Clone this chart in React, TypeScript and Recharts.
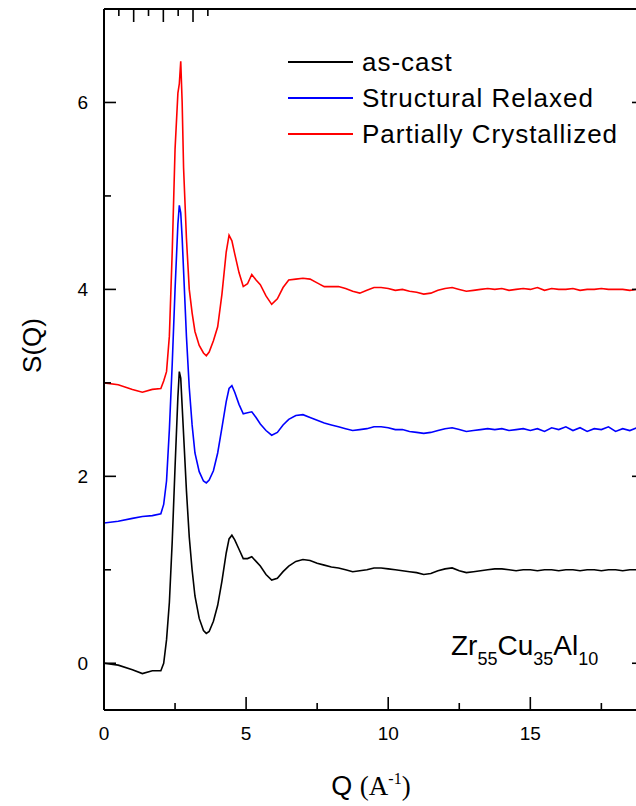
import { LineChart, Line, XAxis, YAxis, Legend, ReferenceDot } from 'recharts';

// Q grid (1/Angstrom), shared by the three curves
const qValues = [
  0, 0.5, 1.0, 1.35, 1.7, 2.0, 2.1, 2.2, 2.3, 2.4, 2.5, 2.6, 2.65, 2.7, 2.75, 2.8, 2.9, 3.0, 3.1, 3.2,
  3.35, 3.5, 3.6, 3.7, 3.85, 4.0, 4.15, 4.3, 4.4, 4.5, 4.6, 4.75, 4.9, 5.05, 5.2, 5.35, 5.5, 5.7, 5.9,
  6.1, 6.3, 6.5, 6.75, 7.0, 7.25, 7.5, 7.75, 8.0,
  8.25, 8.5, 8.75, 9.0, 9.25, 9.5, 9.75, 10.0, 10.25, 10.5, 10.75, 11.0, 11.25, 11.5, 11.75, 12.0,
  12.25, 12.5, 12.75, 13.0, 13.25, 13.5, 13.75, 14.0, 14.25, 14.5, 14.75, 15.0, 15.25, 15.5, 15.75,
  16.0, 16.25, 16.5, 16.75, 17.0, 17.25, 17.5, 17.75, 18.0, 18.25, 18.5, 18.75, 19.0,
];

const asCast = [
  0.0, -0.02, -0.07, -0.11, -0.08, -0.08, 0.0, 0.25, 0.65, 1.3, 2.1, 2.85, 3.12, 3.05, 2.75, 2.45, 1.85, 1.35, 1.0, 0.72,
  0.48, 0.35, 0.32, 0.34, 0.45, 0.62, 0.88, 1.18, 1.33, 1.37, 1.32, 1.22, 1.12, 1.12, 1.14, 1.09, 1.04, 0.95, 0.89,
  0.91, 0.98, 1.04, 1.09, 1.11, 1.1, 1.07, 1.05, 1.03,
  1.02, 1.0, 0.98, 0.99, 1.0, 1.02, 1.02, 1.01, 1.0, 0.99, 0.98, 0.97, 0.95, 0.96, 0.99, 1.01,
  1.02, 0.99, 0.97, 0.98, 0.99, 1.0, 1.01, 1.01, 1.0, 0.99, 1.0, 1.0, 0.99, 1.0, 1.0,
  0.99, 1.0, 1.0, 0.99, 1.0, 1.0, 0.99, 1.0, 1.0, 0.99, 1.0, 1.0, 1.0,
];

const relaxed = [
  1.5, 1.52, 1.55, 1.57, 1.58, 1.6, 1.7, 1.95, 2.5, 3.2, 4.0, 4.7, 4.9, 4.82, 4.55, 4.2, 3.5, 2.95, 2.55, 2.25,
  2.05, 1.95, 1.93, 1.96, 2.06, 2.25, 2.52, 2.8, 2.94, 2.97, 2.9, 2.77, 2.67, 2.68, 2.69, 2.63, 2.56, 2.49, 2.44,
  2.47, 2.55, 2.61, 2.65, 2.66, 2.63, 2.6, 2.57, 2.55,
  2.53, 2.51, 2.49, 2.5, 2.51, 2.53, 2.53, 2.52, 2.5, 2.5, 2.48, 2.47, 2.46, 2.47, 2.49, 2.51,
  2.52, 2.5, 2.48, 2.49, 2.5, 2.51, 2.5, 2.51, 2.49, 2.5, 2.51, 2.49, 2.51, 2.48, 2.52,
  2.5, 2.53, 2.49, 2.52, 2.48, 2.51, 2.5, 2.53, 2.48, 2.51, 2.49, 2.52, 2.5,
];

const crystallized = [
  3.0, 2.98, 2.93, 2.9, 2.93, 2.94, 3.02, 3.12, 3.5, 4.4, 5.5, 6.1, 6.2, 6.44, 6.0, 5.3, 4.55, 4.0, 3.75, 3.55,
  3.4, 3.32, 3.29, 3.33, 3.45, 3.6, 3.95, 4.4, 4.58, 4.52, 4.38, 4.18, 4.03, 4.06, 4.16, 4.1, 4.05, 3.93, 3.84,
  3.9, 4.02, 4.1, 4.11, 4.12, 4.11, 4.07, 4.03, 4.03,
  4.03, 4.01, 3.98, 3.96, 3.99, 4.02, 4.02, 4.01, 3.99, 4.0, 3.98, 3.97, 3.95, 3.96, 3.99, 4.01,
  4.02, 4.0, 3.98, 3.99, 4.0, 4.01, 4.0, 4.01, 3.99, 4.0, 4.01, 4.0, 4.02, 3.99, 4.01,
  4.0, 4.0, 4.01, 3.99, 4.0, 4.0, 4.01, 4.0, 4.0, 4.0, 3.99, 4.0, 4.0,
];

const xTicks = [0, 2.5, 5, 7.5, 10, 12.5, 15, 17.5];
const yTicks = [0, 1, 2, 3, 4, 5, 6];

const series = [
  { key: 'asCast', name: 'as-cast', color: '#000000' },
  { key: 'relaxed', name: 'Structural Relaxed', color: '#0000ff' },
  { key: 'crystallized', name: 'Partially Crystallized', color: '#ff0000' },
];

const data = qValues.map((q, i) => ({
  q,
  asCast: asCast[i],
  relaxed: relaxed[i],
  crystallized: crystallized[i],
}));

const SANS = '"Liberation Sans", Arial, sans-serif';
const SERIF = '"Liberation Serif", "Times New Roman", serif';

const BottomTick = (props: any) => {
  const { x, y, payload } = props;
  const major = payload.value % 5 === 0;
  return (
    <g>
      <line x1={x} x2={x} y1={y} y2={y - (major ? 13 : 7)} stroke="#000" strokeWidth={1.6} />
      {major && (
        <text x={x} y={y + 30} textAnchor="middle" fontSize={19} fontFamily={SANS} fill="#000">
          {payload.value}
        </text>
      )}
    </g>
  );
};

const TopTick = (props: any) => {
  const { x, y, payload } = props;
  const major = payload.value % 5 === 0;
  return <line x1={x} x2={x} y1={y} y2={y + (major ? 13 : 7)} stroke="#000" strokeWidth={1.6} />;
};

const LeftTick = (props: any) => {
  const { x, y, payload } = props;
  const major = payload.value % 2 === 0;
  return (
    <g>
      <line x1={x} x2={x + (major ? 12 : 7)} y1={y} y2={y} stroke="#000" strokeWidth={1.6} />
      {major && (
        <text x={x - 16} y={y + 7} textAnchor="end" fontSize={19} fontFamily={SANS} fill="#000">
          {payload.value}
        </text>
      )}
    </g>
  );
};

const RightTick = (props: any) => {
  const { x, y, payload } = props;
  const major = payload.value % 2 === 0;
  return <line x1={x} x2={x - (major ? 12 : 7)} y1={y} y2={y} stroke="#000" strokeWidth={1.6} />;
};

const XTitle = (props: any) => {
  const vb = props.viewBox;
  return (
    <text x={vb.x + vb.width / 2 - 3} y={vb.y + 85} textAnchor="middle" fontSize={27} fill="#000">
      <tspan fontFamily={SANS}>Q </tspan>
      <tspan fontFamily={SERIF}>(A</tspan>
      <tspan fontFamily={SERIF} fontSize={16} dy={-11}>-1</tspan>
      <tspan fontFamily={SERIF} dy={11}>)</tspan>
    </text>
  );
};

const YTitle = (props: any) => {
  const vb = props.viewBox;
  const cx = vb.x + 32;
  const cy = vb.y + vb.height / 2 - 14;
  return (
    <text
      x={cx}
      y={cy}
      transform={`rotate(-90, ${cx}, ${cy})`}
      textAnchor="middle"
      dominantBaseline="central"
      fontSize={26}
      fontFamily={SANS}
      fill="#000"
    >
      S(Q)
    </text>
  );
};

const AlloyLabel = (props: any) => {
  const vb = props.viewBox;
  return (
    <text x={vb.x} y={vb.y - 8} textAnchor="middle" fontSize={28} fontFamily={SANS} fill="#000">
      Zr
      <tspan fontSize={18} dy={10}>55</tspan>
      <tspan dy={-10}>Cu</tspan>
      <tspan fontSize={18} dy={10}>35</tspan>
      <tspan dy={-10}>Al</tspan>
      <tspan fontSize={18} dy={10}>10</tspan>
    </text>
  );
};

const LegendBox = () => (
  <div style={{ fontFamily: SANS, fontSize: 26, color: '#000' }}>
    {series.map((s) => (
      <div key={s.key} style={{ display: 'flex', alignItems: 'center', height: 36 }}>
        <div style={{ width: 65, borderTop: `2px solid ${s.color}`, marginRight: 9 }} />
        <span style={{ letterSpacing: 1, whiteSpace: 'nowrap', lineHeight: '36px' }}>{s.name}</span>
      </div>
    ))}
  </div>
);

export default function App() {
  return (
    <div
      style={{
        position: 'absolute',
        left: 0,
        top: 0,
        width: 636,
        height: 806,
        overflow: 'hidden',
        background: '#fff',
      }}
    >
      <LineChart width={660} height={806} data={data} margin={{ top: 8, right: 0, bottom: 0, left: 0 }}>
        <XAxis
          dataKey="q"
          type="number"
          domain={[0, 19]}
          ticks={xTicks}
          interval={0}
          allowDataOverflow
          height={96}
          tickSize={0}
          tickMargin={0}
          tickLine={false}
          tick={BottomTick}
          axisLine={{ stroke: '#000', strokeWidth: 2 }}
          label={XTitle}
        />
        <XAxis
          xAxisId="top"
          orientation="top"
          type="number"
          domain={[0, 19]}
          ticks={xTicks}
          interval={0}
          allowDataOverflow
          height={1}
          tickSize={0}
          tickMargin={0}
          tickLine={false}
          tick={TopTick}
          axisLine={{ stroke: '#000', strokeWidth: 2 }}
        />
        <YAxis
          type="number"
          domain={[-0.5, 7]}
          ticks={yTicks}
          interval={0}
          allowDataOverflow
          width={104}
          tickSize={0}
          tickMargin={0}
          tickLine={false}
          tick={LeftTick}
          axisLine={{ stroke: '#000', strokeWidth: 2 }}
          label={YTitle}
        />
        <YAxis
          yAxisId="right"
          orientation="right"
          type="number"
          domain={[-0.5, 7]}
          ticks={yTicks}
          interval={0}
          allowDataOverflow
          width={16}
          tickSize={0}
          tickMargin={0}
          tickLine={false}
          tick={RightTick}
          axisLine={{ stroke: '#000', strokeWidth: 2 }}
        />
        {series.map((s) => (
          <Line
            key={s.key}
            dataKey={s.key}
            name={s.name}
            type="linear"
            stroke={s.color}
            strokeWidth={1.6}
            dot={false}
            activeDot={false}
            isAnimationActive={false}
          />
        ))}
        <ReferenceDot x={14.8} y={0} r={0} fill="none" stroke="none" label={AlloyLabel} />
        <Legend
          layout="vertical"
          align="center"
          verticalAlign="middle"
          content={LegendBox}
          wrapperStyle={{ left: 288, top: 44, width: 'auto' }}
        />
      </LineChart>
    </div>
  );
}
